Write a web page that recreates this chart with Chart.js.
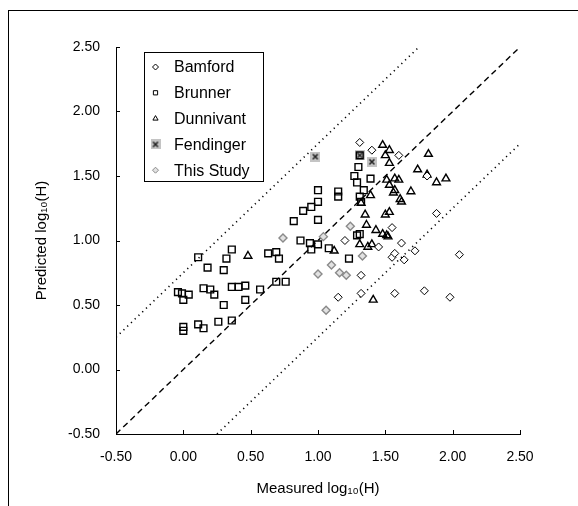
<!DOCTYPE html>
<html lang="en">
<head>
    <meta charset="UTF-8">
    <title>Predicted vs Measured log10(H)</title>
    <script src="https://cdn.jsdelivr.net/npm/chart.js@4.4.8/dist/chart.umd.min.js"></script>
    <style>
        html, body {
            margin: 0;
            background: #fff;
            overflow: hidden;
        }
        #frame {
            position: absolute;
            left: 8px;
            top: 10px;
            width: 600px;
            height: 520px;
            border-left: 1px solid #000;
            border-top: 1px solid #000;
        }
        #myChart {
            position: absolute;
            left: 0;
            top: 0;
        }
    </style>
</head>
<body>

<div id="frame"></div>
<canvas id="myChart" width="578" height="506"></canvas>

<script>

    // axis ticks
    const xTicks = [-0.5, 0, 0.5, 1, 1.5, 2, 2.5]
    const yTicks = [-0.5, 0, 0.5, 1, 1.5, 2, 2.5]

    // reference lines (1:1 and +/- 0.75 log units)
    const oneToOne = [[-0.5, -0.5], [2.5, 2.5]]
    const upperBand = [[-0.5, 0.25], [1.75, 2.5]]
    const lowerBand = [[0.25, -0.5], [2.5, 1.75]]

    // [measured, predicted]
    const bamford = [
        [1.31, 1.76], [1.40, 1.70], [1.60, 1.66], [1.81, 1.50], [1.88, 1.21],
        [2.05, 0.89], [1.98, 0.56], [1.79, 0.61], [1.57, 0.59], [1.15, 0.56],
        [1.32, 0.59], [1.32, 0.73], [1.20, 1.00], [1.55, 1.10], [1.62, 0.98],
        [1.72, 0.92], [1.55, 0.87], [1.57, 0.90], [1.64, 0.85], [1.45, 0.95]
    ]

    const brunner = [
        [-0.04, 0.60], [-0.01, 0.59], [0.00, 0.54], [0.04, 0.58],
        [0.00, 0.33], [0.00, 0.30], [0.11, 0.35], [0.15, 0.32], [0.26, 0.37], [0.36, 0.38],
        [0.11, 0.87], [0.18, 0.79], [0.30, 0.77], [0.32, 0.86], [0.36, 0.93],
        [0.15, 0.63], [0.20, 0.62], [0.23, 0.58], [0.30, 0.50],
        [0.36, 0.64], [0.41, 0.64], [0.46, 0.65], [0.46, 0.54], [0.57, 0.62],
        [0.63, 0.90], [0.69, 0.91], [0.71, 0.86], [0.69, 0.68], [0.76, 0.68],
        [0.82, 1.15], [0.87, 1.00], [0.89, 1.23], [0.95, 1.26], [1.00, 1.39],
        [1.00, 1.30], [1.00, 1.16], [0.94, 0.98], [0.95, 0.93], [1.00, 0.97],
        [1.08, 0.94], [1.15, 1.38], [1.15, 1.34], [1.23, 0.86], [1.29, 1.04],
        [1.31, 1.05], [1.27, 1.50], [1.29, 1.45], [1.30, 1.57], [1.31, 1.66],
        [1.34, 1.39], [1.39, 1.48], [1.31, 1.34], [1.32, 1.30]
    ]

    const dunnivant = [
        [0.48, 0.88], [1.12, 0.92], [1.31, 0.97], [1.37, 0.95], [1.40, 0.97],
        [1.35, 1.20], [1.36, 1.12], [1.43, 1.08], [1.48, 1.05], [1.51, 1.04],
        [1.52, 1.03], [1.41, 0.54], [1.32, 1.29], [1.39, 1.35], [1.48, 1.74],
        [1.53, 1.70], [1.50, 1.66], [1.53, 1.60], [1.51, 1.47], [1.57, 1.48],
        [1.60, 1.47], [1.53, 1.43], [1.57, 1.39], [1.56, 1.37], [1.61, 1.32],
        [1.62, 1.30], [1.53, 1.22], [1.50, 1.20], [1.69, 1.38], [1.74, 1.55],
        [1.82, 1.67], [1.81, 1.51], [1.88, 1.45], [1.95, 1.48]
    ]

    const fendinger = [
        [0.98, 1.65], [1.40, 1.61], [1.31, 1.66]
    ]

    const thisStudy = [
        [0.74, 1.02], [1.04, 1.03], [1.24, 1.11], [1.33, 0.88], [1.10, 0.81],
        [1.00, 0.74], [1.16, 0.75], [1.21, 0.73], [1.06, 0.46]
    ]

    const toXY = arr => arr.map(p => ({x: p[0], y: p[1]}))

    // gray square with a dark cross, as in the legend
    const fendMarker = document.createElement('canvas')
    fendMarker.width = 10
    fendMarker.height = 10
    {
        const c = fendMarker.getContext('2d')
        c.fillStyle = '#c4c4c4'
        c.fillRect(0, 0, 10, 10)
        c.strokeStyle = '#222'
        c.lineWidth = 1.6
        c.beginPath()
        c.moveTo(2.5, 2.5); c.lineTo(7.5, 7.5)
        c.moveTo(7.5, 2.5); c.lineTo(2.5, 7.5)
        c.stroke()
    }

    const font = '"Liberation Sans", Arial, sans-serif'

    const pointSets = [
        {label: 'Bamford', data: toXY(bamford), pointStyle: 'rectRot', pointRadius: 4,
         borderColor: '#000', backgroundColor: '#fff', borderWidth: 1},
        {label: 'Brunner', data: toXY(brunner), pointStyle: 'rect', pointRadius: 4.8,
         borderColor: '#000', backgroundColor: 'rgba(255,255,255,0)', borderWidth: 1.4},
        {label: 'Dunnivant', data: toXY(dunnivant), pointStyle: 'triangle', pointRadius: 4.5,
         borderColor: '#000', backgroundColor: 'rgba(255,255,255,0)', borderWidth: 1.4},
        {label: 'Fendinger', data: toXY(fendinger), pointStyle: fendMarker, pointRadius: 5,
         borderColor: '#222', backgroundColor: '#c4c4c4', borderWidth: 1},
        {label: 'This Study', data: toXY(thisStudy), pointStyle: 'rectRot', pointRadius: 4,
         borderColor: '#8a8a8a', backgroundColor: '#e2e2e2', borderWidth: 1.4}
    ]

    const lineSets = [
        {data: toXY(oneToOne), borderDash: [6, 4], borderWidth: 1.4},
        {data: toXY(upperBand), borderDash: [1.2, 4], borderWidth: 1.6},
        {data: toXY(lowerBand), borderDash: [1.2, 4], borderWidth: 1.6}
    ]

    const datasets = []
    for (let s of pointSets) {
        datasets.push(Object.assign({type: 'scatter', showLine: false, order: 1}, s))
    }
    for (let l of lineSets) {
        datasets.push(Object.assign({
            type: 'line', borderColor: '#000', pointRadius: 0, fill: false, order: 10
        }, l))
    }

    // small tick marks pointing into the plot
    const innerTicks = {
        id: 'innerTicks',
        afterDraw(chart) {
            const ctx = chart.ctx
            const {left, bottom} = chart.chartArea
            ctx.save()
            ctx.strokeStyle = '#000'
            ctx.lineWidth = 1
            ctx.beginPath()
            for (let v of xTicks) {
                const px = Math.round(chart.scales.x.getPixelForValue(v)) + 0.5
                ctx.moveTo(px, bottom)
                ctx.lineTo(px, bottom - 4)
            }
            for (let v of yTicks) {
                const py = Math.round(chart.scales.y.getPixelForValue(v)) + 0.5
                ctx.moveTo(left, py)
                ctx.lineTo(left + 4, py)
            }
            ctx.stroke()
            ctx.restore()
        }
    }

    // boxed legend inside the plot, top left
    const boxLegend = {
        id: 'boxLegend',
        afterDraw(chart) {
            const ctx = chart.ctx
            ctx.save()
            ctx.fillStyle = '#fff'
            ctx.fillRect(144.5, 52.5, 119, 129)
            ctx.strokeStyle = '#000'
            ctx.lineWidth = 1
            ctx.strokeRect(144.5, 52.5, 119, 129)
            ctx.font = '16px ' + font
            ctx.textBaseline = 'middle'
            let y = 67
            for (let s of pointSets) {
                ctx.strokeStyle = s.borderColor
                ctx.fillStyle = s.backgroundColor
                ctx.lineWidth = 1
                Chart.helpers.drawPoint(ctx, {
                    pointStyle: s.pointStyle === fendMarker ? fendMarker : s.pointStyle,
                    radius: 3, rotation: 0, borderWidth: 1
                }, 155.5, y)
                ctx.fillStyle = '#000'
                ctx.fillText(s.label, 174, y + 1)
                y += 25.8
            }
            ctx.restore()
        }
    }

    const ctx = document.getElementById('myChart')
    const chart = new Chart(ctx, {
        type: 'scatter',
        data: {datasets: datasets},
        plugins: [innerTicks, boxLegend],
        options: {
            responsive: false,
            animation: false,
            layout: {padding: {left: 0, top: 47, right: 58, bottom: 0}},
            plugins: {
                legend: {display: false},
                tooltip: {enabled: false}
            },
            scales: {
                x: {
                    type: 'linear',
                    min: -0.5,
                    max: 2.5,
                    afterBuildTicks: s => { s.ticks = xTicks.map(v => ({value: v})) },
                    afterFit: s => { s.height = 72 },
                    grid: {display: false, drawTicks: false},
                    border: {display: true, color: '#000', width: 1},
                    ticks: {
                        padding: 15,
                        color: '#000',
                        font: {family: font, size: 14},
                        callback: v => v.toFixed(2)
                    },
                    title: {
                        display: true,
                        text: 'Measured log₁₀(H)',
                        color: '#000',
                        font: {family: font, size: 15},
                        padding: {top: 0, bottom: 8}
                    }
                },
                y: {
                    type: 'linear',
                    min: -0.5,
                    max: 2.5,
                    afterBuildTicks: s => { s.ticks = yTicks.map(v => ({value: v})) },
                    afterFit: s => { s.width = 116 },
                    grid: {display: false, drawTicks: false},
                    border: {display: true, color: '#000', width: 1},
                    ticks: {
                        padding: 16,
                        color: '#000',
                        font: {family: font, size: 14},
                        callback: v => v.toFixed(2)
                    },
                    title: {
                        display: true,
                        text: 'Predicted log₁₀(H)',
                        color: '#000',
                        font: {family: font, size: 15},
                        padding: {top: 33, bottom: 0}
                    }
                }
            }
        }
    })

</script>
</body>
</html>
